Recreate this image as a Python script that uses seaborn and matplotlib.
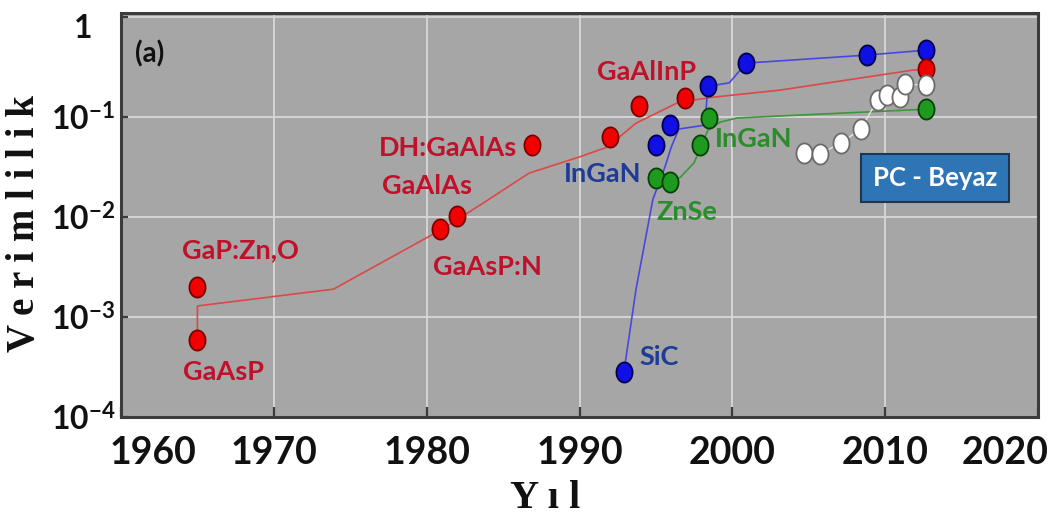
import numpy as np
import pandas as pd
import matplotlib
matplotlib.use("Agg")
import matplotlib.pyplot as plt
import matplotlib.ticker as mticker
from matplotlib.path import Path
from matplotlib.transforms import ScaledTranslation
import seaborn as sns

# ---------------------------------------------------------------- data
red_years = [1965.0, 1965.0, 1980.9, 1982.0, 1986.9, 1992.0, 1993.9, 1996.9, 2012.7]
red_eff = [5.9e-4, 2.0e-3, 7.6e-3, 1.02e-2, 0.052, 0.063, 0.129, 0.155, 0.30]
red_trend_years = [1965.0, 1965.0, 1973.9, 1980.9, 1983.5, 1986.7, 1990.0,
                   1991.8, 1993.7, 1996.5, 1998.7, 2003.1, 2011.8, 2012.7]
red_trend_eff = [5.9e-4, 1.29e-3, 1.9e-3, 7.4e-3, 0.0132, 0.0275, 0.040,
                 0.050, 0.087, 0.141, 0.158, 0.186, 0.295, 0.30]

blue_years = [1992.9, 1995.0, 1995.9, 1998.4, 2000.9, 2008.8, 2012.7]
blue_eff = [2.8e-4, 0.052, 0.083, 0.204, 0.347, 0.417, 0.468]
blue_trend_years = [1992.9, 1993.7, 1994.8, 1995.6, 1996.0, 1996.5, 1998.2,
                    1998.4, 1999.8, 2000.9, 2008.8, 2012.7]
blue_trend_eff = [2.8e-4, 1.9e-3, 0.015, 0.032, 0.050, 0.076, 0.083,
                  0.204, 0.22, 0.347, 0.417, 0.468]

green_years = [1995.0, 1995.9, 1997.9, 1998.5, 2012.7]
green_eff = [0.0245, 0.0224, 0.052, 0.098, 0.12]
green_trend_years = [1995.9, 1996.6, 1997.5, 1998.4, 1999.2, 2000.3, 2012.7]
green_trend_eff = [0.0224, 0.025, 0.035, 0.074, 0.089, 0.098, 0.12]

white_years = [2004.7, 2005.75, 2007.1, 2008.4, 2009.5, 2010.1, 2011.0, 2011.3, 2012.7]
white_eff = [0.044, 0.043, 0.055, 0.076, 0.148, 0.166, 0.158, 0.214, 0.209]

label_text = ["GaP:Zn,O", "GaAsP", "GaAsP:N", "GaAlAs", "DH:GaAlAs",
              "GaAlInP", "InGaN", "SiC", "ZnSe", "InGaN"]
label_year = [1967.8, 1966.7, 1984.0, 1980.0, 1981.4,
              1994.4, 1991.5, 1995.2, 1997.0, 2001.4]
label_eff = [4.7e-3, 2.8e-4, 3.2e-3, 0.0204, 0.0496,
             0.28, 0.027, 4.0e-4, 0.0112, 0.060]
label_group = ["red", "red", "red", "red", "red",
               "red", "blue", "blue", "green", "green"]

x_ticks = [1960, 1970, 1980, 1990, 2000, 2010, 2020]
y_ticks = [1e-4, 1e-3, 1e-2, 1e-1, 1]

# ---------------------------------------------------------------- style
sns.set_theme(style="darkgrid", rc={
    "axes.facecolor": "#A6A6A6",
    "grid.color": "#D8D8D8",
    "grid.linewidth": 1.3,
    "axes.edgecolor": "#3C3C3C",
    "axes.linewidth": 2.2,
})
sans = ["Lato", "DejaVu Sans"]
serif = ["Liberation Serif", "DejaVu Serif"]
plt.rcParams["font.family"] = sans

face = {"red": "#F20000", "blue": "#1010E6", "green": "#1E9A1E", "white": "#FFFFFF"}
edge = {"red": "#7A0000", "blue": "#00004A", "green": "#064006", "white": "#6A6A6A"}
line = {"red": "#DC4848", "blue": "#4848DC", "green": "#3C963C", "white": "#E6E6E6"}
text_col = {"red": "#C0102A", "blue": "#1E3C96", "green": "#2A8C2A"}

# upright oval marker
t = np.linspace(0, 2 * np.pi, 60)
oval = Path(np.column_stack([0.8 * np.cos(t), np.sin(t)]), closed=True)

fig = plt.figure(figsize=(10.51, 5.15), dpi=100)
ax = fig.add_axes([121 / 1051, 98 / 515, 917 / 1051, 404 / 515])

trends = {
    "red": (red_trend_years, red_trend_eff),
    "blue": (blue_trend_years, blue_trend_eff),
    "green": (green_trend_years, green_trend_eff),
    "white": (white_years, white_eff),
}
for key, (xs, ys) in trends.items():
    df = pd.DataFrame({"year": xs, "eff": ys})
    sns.lineplot(data=df, x="year", y="eff", sort=False, estimator=None,
                 color=line[key], linewidth=1.2 if key != "white" else 1.0,
                 ax=ax, zorder=3)

points = {
    "blue": (blue_years, blue_eff),
    "red": (red_years, red_eff),
    "white": (white_years, white_eff),
    "green": (green_years, green_eff),
}
for i, (key, (xs, ys)) in enumerate(points.items()):
    df = pd.DataFrame({"year": xs, "eff": ys})
    sns.scatterplot(data=df, x="year", y="eff", marker=oval, s=210,
                    color=face[key], edgecolor=edge[key], linewidth=1.3,
                    ax=ax, zorder=4 + i)

ax.set_yscale("log")
ax.set_xlim(1960, 2020)
ax.set_ylim(1e-4, 1.1)
ax.xaxis.set_major_locator(mticker.FixedLocator(x_ticks))
ax.yaxis.set_major_locator(mticker.FixedLocator(y_ticks))
ax.yaxis.set_minor_locator(mticker.NullLocator())
ax.xaxis.set_major_formatter(mticker.FixedFormatter([str(v) for v in x_ticks]))


def ylab(v, pos):
    e = int(round(np.log10(v)))
    return "1" if e == 0 else r"$\mathdefault{10^{%d}}$" % e


ax.yaxis.set_major_formatter(mticker.FuncFormatter(ylab))
ax.grid(True, which="major")
ax.tick_params(axis="x", direction="in", length=7, width=1.6, color="#3C3C3C",
               pad=14, labelsize=27, labelcolor="#111111", bottom=True)
ax.tick_params(axis="y", direction="in", length=5, width=1.6, color="#3C3C3C",
               pad=27, labelsize=23, labelcolor="#111111", left=True)
for lbl in ax.get_yticklabels():
    lbl.set_horizontalalignment("center")
for lbl in ax.get_xticklabels() + ax.get_yticklabels():
    lbl.set_fontweight("bold")
for s in ax.spines.values():
    s.set_visible(True)
    s.set_color("#3C3C3C")
    s.set_linewidth(2.2)

ax.set_xlabel("Y ı l", family=serif, fontweight="bold", fontsize=29, color="#111111")
ax.set_ylabel("V e r i m l i l i k", family=serif, fontweight="bold", fontsize=28,
              color="#111111")
ax.xaxis.set_label_coords(0.463, -0.155)
ax.yaxis.set_label_coords(-0.085, 0.48)

for txt, xv, yv, g in zip(label_text, label_year, label_eff, label_group):
    ax.text(xv, yv, txt, color=text_col[g], fontsize=19.5, fontweight="bold",
            ha="center", va="center", zorder=10)

ax.text(0.015, 0.9, "(a)", transform=ax.transAxes, fontsize=20, fontweight="bold",
        color="#111111", ha="left", va="center")
ax.text(0.8876, 0.5916, "PC - Beyaz", transform=ax.transAxes, fontsize=18.5,
        fontweight="bold", color="white", ha="center", va="center", zorder=12,
        bbox=dict(boxstyle="square,pad=0.45", facecolor="#2E75B6",
                  edgecolor="#1F3550", linewidth=1.5))

# pull the outermost year labels inside the frame, drop the "1" a little
fig.canvas.draw()
xt = ax.xaxis.get_major_ticks()
for idx, dx in {0: 32 / 100, len(xt) - 1: -33 / 100}.items():
    lab = xt[idx].label1
    lab.set_transform(lab.get_transform() + ScaledTranslation(dx, 0, fig.dpi_scale_trans))
yt = ax.yaxis.get_major_ticks()
top = yt[-1].label1
top.set_transform(top.get_transform() + ScaledTranslation(0, -9 / 100, fig.dpi_scale_trans))

fig.savefig("out.png", dpi=100, facecolor="white")
